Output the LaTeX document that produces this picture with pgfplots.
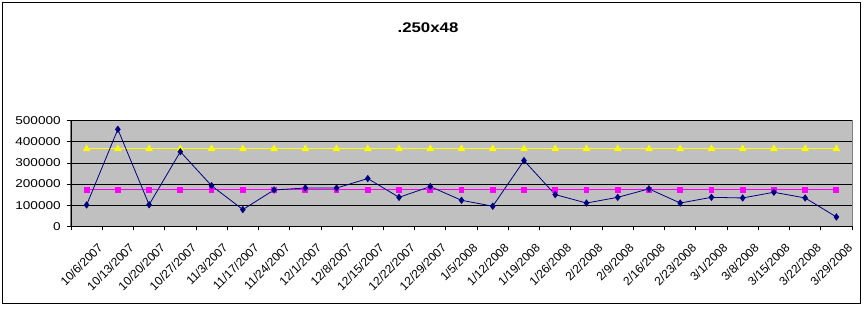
\documentclass[border=0pt]{standalone}
\usepackage{fontspec}
\setmainfont{Liberation Sans}
\newfontfamily\stretchfont[FakeStretch=1.2]{Liberation Sans}
\usepackage{pgfplots}
\pgfplotsset{compat=1.18}
\definecolor{plotbg}{HTML}{C0C0C0}
\definecolor{navyc}{HTML}{000080}
\definecolor{magc}{HTML}{FF00FF}
\definecolor{yelc}{HTML}{FFFF00}
\begin{document}
\begin{tikzpicture}[x=1pt,y=1pt]
% invisible page bounds (1px = 0.75pt), origin = bottom-left of plot area
\path (-53.25,-62.0) rectangle (596.25,169.7);
\draw[black, line width=0.75pt] (-51,-58.3) rectangle (591.75,167.5);
\node[font=\stretchfont\bfseries\fontsize{10.5}{12}\selectfont] at (267.75,148.7) {.250x48};
\begin{axis}[
  at={(0,0)}, anchor=south west,
  scale only axis, width=585.75pt, height=79.2pt,
  xmin=-0.5, xmax=24.5, ymin=0, ymax=500000,
  axis x line*=bottom, axis y line*=left,
  axis line style={black, line width=0.6pt},
  axis background/.style={fill=plotbg, draw=gray, line width=0.75pt},
  ytick={0,100000,200000,300000,400000,500000},
  scaled y ticks=false,
  yticklabel style={/pgf/number format/fixed, /pgf/number format/1000 sep={}, font=\stretchfont\fontsize{8.5}{9}\selectfont, anchor=east, inner sep=0pt, xshift=-4.5pt},
  /pgf/number format/assume math mode=true,
  ymajorgrids, grid style={black, line width=0.6pt},
  xtick={0,...,24},
  xticklabels={10/6/2007,10/13/2007,10/20/2007,10/27/2007,11/3/2007,11/17/2007,11/24/2007,12/1/2007,12/8/2007,12/15/2007,12/22/2007,12/29/2007,1/5/2008,1/12/2008,1/19/2008,1/26/2008,2/2/2008,2/9/2008,2/16/2008,2/23/2008,3/1/2008,3/8/2008,3/15/2008,3/22/2008,3/29/2008},
  xticklabel style={xshift=8pt, yshift=-9pt, rotate=45, anchor=north east, font=\fontsize{9}{10}\selectfont, inner sep=0pt},
  major x tick style={draw=none},
  minor xtick={-0.5,0.5,...,24.5},
  minor tick length=3pt,
  major tick length=3pt,
  tick align=outside,
  tick style={black, line width=0.6pt},
  clip=false,
]
\addplot[color=yelc, line width=0.75pt, mark=triangle*, mark size=2.6pt, mark options={fill=yelc, draw=yelc}] coordinates {
(0,366000)(1,366000)(2,366000)(3,366000)(4,366000)(5,366000)(6,366000)(7,366000)(8,366000)(9,366000)(10,366000)(11,366000)(12,366000)(13,366000)(14,366000)(15,366000)(16,366000)(17,366000)(18,366000)(19,366000)(20,366000)(21,366000)(22,366000)(23,366000)(24,366000)};
\addplot[color=magc, line width=0.75pt, mark=square*, mark size=1.8pt, mark options={fill=magc, draw=magc}] coordinates {
(0,172000)(1,172000)(2,172000)(3,172000)(4,172000)(5,172000)(6,172000)(7,172000)(8,172000)(9,172000)(10,172000)(11,172000)(12,172000)(13,172000)(14,172000)(15,172000)(16,172000)(17,172000)(18,172000)(19,172000)(20,172000)(21,172000)(22,172000)(23,172000)(24,172000)};
\addplot[color=navyc, line width=0.6pt, mark=diamond*, mark size=2.3pt, mark options={fill=navyc, draw=navyc}] coordinates {
(0,101000)(1,459000)(2,102000)(3,353000)(4,192000)(5,79000)(6,172000)(7,181000)(8,181000)(9,226000)(10,137000)(11,188000)(12,123000)(13,95000)(14,311000)(15,150000)(16,110000)(17,137000)(18,177000)(19,110000)(20,137000)(21,134000)(22,161000)(23,134000)(24,44000)};
\end{axis}
\end{tikzpicture}
\end{document}
